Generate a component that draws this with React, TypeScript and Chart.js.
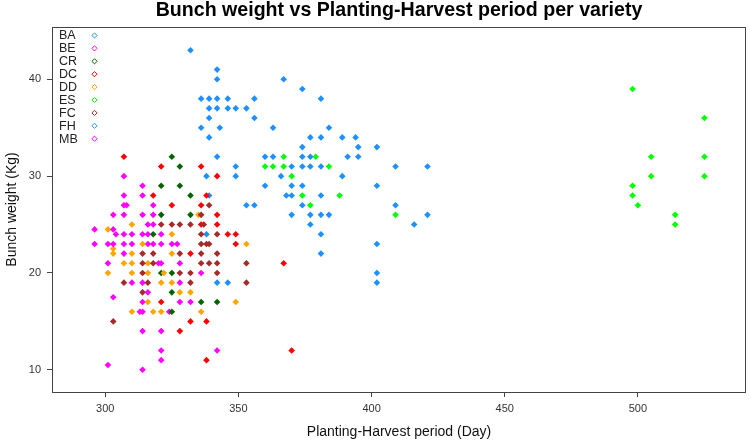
import React, { useEffect, useRef } from "react";
import { Chart, registerables } from "chart.js";

Chart.register(...registerables);

// ---- data: [planting-harvest period (day), bunch weight (kg)] ----
const varieties = ["BA", "BE", "CR", "DC", "DD", "ES", "FC", "FH", "MB"];
const varietyColors = ["#1E90FF", "#FF00FF", "#006400", "#FF0000", "#FFA500", "#00FF00", "#A52A2A", "#1E90FF", "#FF00FF"];

const BA: number[][] = [
  [342, 32], [349, 31], [338, 30], [349, 30], [339, 28], [353, 27], [356, 27], [338, 24], [342, 19], [346, 19],
  [332, 43], [342, 41], [342, 40], [336, 38], [339, 38], [342, 38], [346, 38], [356, 38], [339, 37], [342, 37],
  [346, 37], [349, 37], [353, 37], [339, 36], [356, 36], [336, 35], [343, 35], [339, 34],
];
const BE: number[][] = [
  [314, 29], [314, 28], [318, 27], [314, 26], [318, 26], [316, 25], [318, 25], [314, 24], [316, 24], [321, 24],
  [316, 23], [318, 23], [321, 23], [325, 23], [327, 23], [320, 21], [321, 21], [328, 21], [336, 20], [314, 19],
  [328, 19], [316, 18], [314, 17], [328, 17], [332, 17], [314, 16], [324, 16], [314, 14], [321, 14], [321, 12],
  [342, 12], [321, 11], [314, 10],
];
const CR: number[][] = [
  [325, 32], [328, 31], [321, 29], [328, 29], [332, 28], [321, 26], [332, 26], [318, 24], [321, 20], [325, 20],
  [325, 18], [336, 17], [342, 17], [325, 16],
];
const DC: number[][] = [
  [307, 32], [321, 31], [336, 31], [342, 30], [318, 28], [338, 28], [325, 27], [336, 27], [342, 26], [336, 25],
  [342, 25], [346, 24], [349, 24], [349, 23], [332, 22], [367, 21], [321, 17], [332, 15], [338, 15], [328, 14],
  [370, 12], [338, 11],
];
const DD: number[][] = [
  [335, 26], [310, 25], [301, 24.5], [325, 24], [314, 23], [353, 23], [303, 22.5], [303, 22], [310, 22], [325, 22],
  [307, 21], [310, 21], [316, 21], [301, 20], [310, 20], [316, 20], [322, 20], [321, 19], [325, 19], [328, 18],
  [332, 18], [316, 17], [349, 17], [310, 16], [318, 16], [321, 16], [336, 16],
];
const ES: number[][] = [
  [367, 32], [379, 32], [360, 31], [363, 31], [367, 31], [384, 31], [370, 30], [374, 28], [388, 28], [377, 27],
  [409, 26], [498, 39], [525, 36], [505, 32], [525, 32], [505, 30], [525, 30], [498, 29], [498, 28], [500, 27],
  [514, 26], [514, 25],
];
const FC: number[][] = [
  [339, 27], [336, 26], [321, 25], [325, 25], [328, 25], [332, 25], [337, 25], [336, 24], [342, 24], [336, 23],
  [338, 23], [339, 23], [314, 22], [318, 22], [328, 22], [336, 22], [342, 22], [314, 21], [318, 21], [336, 21],
  [339, 21], [342, 21], [353, 21], [314, 20], [328, 20], [332, 20], [342, 20], [307, 19], [316, 19], [332, 19],
  [353, 19], [314, 18], [303, 15],
];
const FH: number[][] = [
  [367, 40], [374, 39], [381, 38], [363, 35], [384, 35], [377, 34], [381, 34], [389, 34], [394, 34], [374, 33],
  [395, 33], [402, 33], [360, 32], [363, 32], [374, 32], [377, 32], [391, 32], [395, 32], [370, 31], [374, 31],
  [377, 31], [381, 31], [409, 31], [421, 31], [366, 30], [389, 30], [360, 29], [370, 29], [374, 29], [402, 29],
  [368, 28], [370, 28], [381, 28], [374, 27], [409, 27], [370, 26], [377, 26], [381, 26], [384, 26], [421, 26],
  [377, 25], [416, 25], [381, 24], [402, 23], [381, 22], [402, 20], [402, 19],
];
const MB: number[][] = [
  [307, 30], [307, 28], [307, 27], [308, 27], [303, 26], [307, 26], [296, 24.5], [303, 24.5], [304, 24], [307, 24],
  [310, 24], [296, 23], [301, 23], [303, 23], [307, 23], [310, 23], [307, 22], [301, 21], [310, 19], [303, 17.5],
  [313, 16], [301, 10.5],
];

const seriesData = [BA, BE, CR, DC, DD, ES, FC, FH, MB];

const xTicks = [300, 350, 400, 450, 500];
const yTicks = [10, 20, 30, 40];

const titleText = "Bunch weight vs Planting-Harvest period per variety";
const xTitle = "Planting-Harvest period (Day)";
const yTitle = "Bunch weight (Kg)";

const FONT = "'Liberation Sans', Arial, sans-serif";

const decorPlugin = {
  id: "decor",
  afterDraw(chart: any) {
    const { ctx, chartArea: a } = chart;
    ctx.save();
    // plot box
    ctx.strokeStyle = "#444";
    ctx.lineWidth = 1;
    ctx.strokeRect(a.left + 0.5, a.top + 0.5, a.right - a.left - 1, a.bottom - a.top);
    // title
    ctx.fillStyle = "#000";
    ctx.textAlign = "center";
    ctx.textBaseline = "middle";
    ctx.font = `bold 19.6px ${FONT}`;
    const cx = (a.left + a.right) / 2;
    ctx.fillText(titleText, cx, 11);
    // axis titles
    ctx.fillStyle = "#111";
    ctx.font = `14px ${FONT}`;
    ctx.fillText(xTitle, cx, 432);
    ctx.save();
    ctx.translate(12, (a.top + a.bottom) / 2);
    ctx.rotate(-Math.PI / 2);
    ctx.fillText(yTitle, 0, 0);
    ctx.restore();
    // legend
    ctx.font = `12.5px ${FONT}`;
    ctx.textAlign = "left";
    for (let i = 0; i < varieties.length; i++) {
      const y = 35.5 + i * 12.9;
      ctx.fillStyle = "#222";
      ctx.fillText(varieties[i], 59, y + 0.5);
      const mx = 94.5;
      const r = 2.6;
      ctx.beginPath();
      ctx.moveTo(mx, y - r);
      ctx.lineTo(mx + r, y);
      ctx.lineTo(mx, y + r);
      ctx.lineTo(mx - r, y);
      ctx.closePath();
      ctx.strokeStyle = varietyColors[i];
      ctx.lineWidth = 1;
      ctx.stroke();
    }
    ctx.restore();
  },
};

export default function App() {
  const ref = useRef<HTMLCanvasElement>(null);
  useEffect(() => {
    document.body.style.margin = "0";
    const canvas = ref.current!;
    const datasets = varieties.map((name, i) => ({
      label: name,
      data: seriesData[i].map(([x, y]) => ({ x, y })),
      backgroundColor: varietyColors[i],
      borderColor: varietyColors[i],
      borderWidth: 0,
      pointStyle: "rectRot" as const,
      pointRadius: 3.3,
      order: varieties.length - 1 - i,
    }));
    const axisGrid = {
      display: true,
      drawOnChartArea: false,
      drawTicks: true,
      tickLength: 5,
      tickColor: "#444",
      tickWidth: 1,
    };
    const chart = new Chart(canvas, {
      type: "scatter",
      data: { datasets },
      options: {
        responsive: false,
        animation: false,
        devicePixelRatio: 1,
        layout: { padding: { top: 27, right: 2, left: 0, bottom: 0 } },
        plugins: {
          legend: { display: false },
          tooltip: { enabled: false },
          title: { display: false },
        },
        scales: {
          x: {
            type: "linear",
            min: 280,
            max: 540.6,
            afterBuildTicks: (s: any) => {
              s.ticks = xTicks.map((v) => ({ value: v }));
            },
            afterFit: (s: any) => {
              s.height = 48;
            },
            grid: axisGrid,
            border: { display: false },
            ticks: {
              font: { family: FONT, size: 11 },
              color: "#333",
              padding: 5,
              maxRotation: 0,
              autoSkip: false,
            },
          },
          y: {
            type: "linear",
            min: 7.71,
            max: 45.4,
            afterBuildTicks: (s: any) => {
              s.ticks = yTicks.map((v) => ({ value: v }));
            },
            afterFit: (s: any) => {
              s.width = 52;
            },
            grid: axisGrid,
            border: { display: false },
            ticks: {
              font: { family: FONT, size: 11 },
              color: "#333",
              padding: 6,
              autoSkip: false,
            },
          },
        },
      },
      plugins: [decorPlugin],
    });
    return () => chart.destroy();
  }, []);
  return <canvas ref={ref} width={750} height={440} style={{ display: "block" }} />;
}
